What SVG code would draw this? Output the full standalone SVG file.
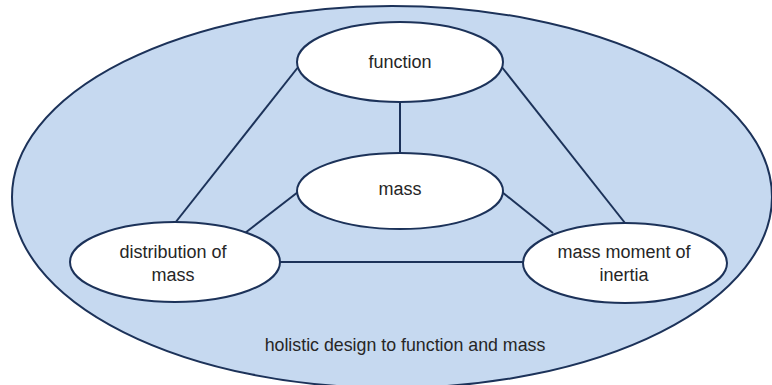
<svg xmlns="http://www.w3.org/2000/svg" width="772" height="385" viewBox="0 0 772 385">
<style>
.outer{fill:#c6d9f0;stroke:#1c3259;stroke-width:2}
.node{fill:#ffffff;stroke:#1c3259;stroke-width:2}
.edge{stroke:#1c3259;stroke-width:2;fill:none}
text{font-family:"Liberation Sans",Arial,sans-serif;font-size:18px;fill:#262626;text-anchor:middle}
</style>
<rect width="772" height="385" fill="#ffffff"/>
<g id="outer">
<ellipse class="outer" cx="392" cy="197" rx="380" ry="191"/>
<text x="405" y="351" style="font-size:17.8px">holistic design to function and mass</text>
</g>
<g id="connectors">
<line class="edge" x1="400" y1="102" x2="400" y2="153"/>
<line class="edge" x1="299" y1="66" x2="175" y2="223"/>
<line class="edge" x1="501" y1="66" x2="625" y2="223"/>
<line class="edge" x1="298" y1="192" x2="245" y2="233"/>
<line class="edge" x1="502" y1="192" x2="553" y2="233"/>
<line class="edge" x1="280" y1="262" x2="523" y2="262"/>
</g>
<g id="function">
<ellipse class="node" cx="400" cy="62" rx="103" ry="40"/>
<text x="400" y="68">function</text>
</g>
<g id="mass">
<ellipse class="node" cx="400" cy="191" rx="103" ry="38"/>
<text x="400" y="195">mass</text>
</g>
<g id="distribution">
<ellipse class="node" cx="175" cy="262" rx="105" ry="40"/>
<text x="173" y="258">distribution of</text>
<text x="173" y="281">mass</text>
</g>
<g id="moment">
<ellipse class="node" cx="625" cy="263" rx="102" ry="40"/>
<text x="624" y="258">mass moment of</text>
<text x="624" y="281">inertia</text>
</g>
</svg>
